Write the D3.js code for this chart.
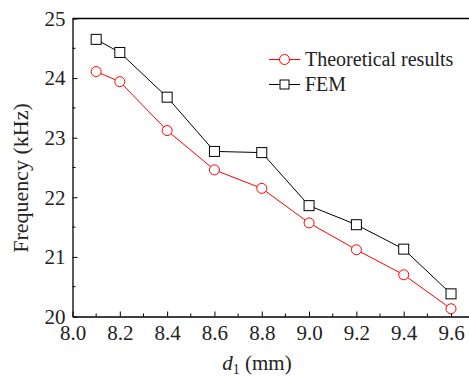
<!DOCTYPE html>
<html>
    <head>
        <meta charset="UTF-8">
        <script src="https://cdn.jsdelivr.net/npm/d3@7/dist/d3.min.js"></script>
    </head>
    <body style="margin:0">
        <script>
            //  横坐标 d1 (mm)
            var d1 = [8.1, 8.2, 8.4, 8.6, 8.8, 9.0, 9.2, 9.4, 9.6];
            //  理论结果与有限元结果 (kHz)
            var theoretical = [24.11, 23.94, 23.12, 22.46, 22.15, 21.57, 21.12, 20.70, 20.13];
            var fem = [24.65, 24.43, 23.68, 22.77, 22.75, 21.86, 21.54, 21.13, 20.38];
            var xTicks = [8.0, 8.2, 8.4, 8.6, 8.8, 9.0, 9.2, 9.4, 9.6];
            var yTicks = [20, 21, 22, 23, 24, 25];
            var seriesNames = ['Theoretical results', 'FEM'];

            var W = 469, H = 376;
            //  注意: 不能用 top 作变量名 (window.top 只读)
            var mLeft = 72.5, mTop = 18.5, mBottom = 316.5, mRight = 469;
            var FONT = 'Liberation Serif';

            //  所有文字统一用衬线字体
            function serif(sel, size) {
                return sel.attr('font-family', FONT)
                        .style('font-family', '"' + FONT + '"')
                        .attr('font-size', size)
                        .attr('fill', '#222');
            }

            //  图是被裁掉右边的, 所以范围比 9.6 稍宽
            var x = d3.scaleLinear().domain([8.0, 9.676]).range([mLeft, mRight]);
            var y = d3.scaleLinear().domain([20, 25]).range([mBottom, mTop]);

            var svg = d3.select('body').append('svg')
                    .attr('width', W)
                    .attr('height', H)
                    .attr('font-family', FONT);

            //  次刻度
            var xMinor = d3.range(8.1, 9.65, 0.2);
            var yMinor = d3.range(20.5, 25, 1);

            var xAxis = d3.axisBottom(x)
                    .tickValues(xTicks)
                    .tickFormat(d3.format('.1f'))
                    .tickSizeInner(-5)
                    .tickSizeOuter(0)
                    .tickPadding(7);
            var gx = svg.append('g')
                    .attr('transform', 'translate(0,' + mBottom + ')')
                    .call(xAxis)
                    .attr('font-family', FONT);
            serif(gx.selectAll('text'), 21).attr('dy', '0.8em');
            gx.select('.domain').attr('stroke-width', 1.3);
            gx.selectAll('.minor').data(xMinor).enter().append('line')
                    .attr('x1', function (d) { return x(d); })
                    .attr('x2', function (d) { return x(d); })
                    .attr('y1', 0).attr('y2', -3)
                    .attr('stroke', '#000');

            var yAxis = d3.axisLeft(y)
                    .tickValues(yTicks)
                    .tickFormat(d3.format('d'))
                    .tickSizeInner(-5)
                    .tickSizeOuter(0)
                    .tickPadding(7);
            var gy = svg.append('g')
                    .attr('transform', 'translate(' + mLeft + ',0)')
                    .call(yAxis)
                    .attr('font-family', FONT);
            serif(gy.selectAll('text'), 21);
            gy.select('.domain').attr('stroke-width', 1.3);
            gy.selectAll('.minor').data(yMinor).enter().append('line')
                    .attr('y1', function (d) { return y(d); })
                    .attr('y2', function (d) { return y(d); })
                    .attr('x1', 0).attr('x2', 3)
                    .attr('stroke', '#000');

            //  上边框
            svg.append('line')
                    .attr('x1', mLeft).attr('x2', mRight)
                    .attr('y1', y(25)).attr('y2', y(25))
                    .attr('stroke', '#000').attr('stroke-width', 1.3);

            //  坐标轴标题
            serif(svg.append('text'), 22)
                    .attr('transform', 'translate(28,178) rotate(-90)')
                    .attr('text-anchor', 'middle')
                    .text('Frequency (kHz)');

            var xl = serif(svg.append('text'), 21)
                    .attr('x', 257).attr('y', 370)
                    .attr('text-anchor', 'middle');
            serif(xl.append('tspan'), 21).attr('font-style', 'italic').text('d');
            serif(xl.append('tspan'), 14).attr('dy', 4).text('1');
            serif(xl.append('tspan'), 21).attr('dy', -4).text(' (mm)');

            var line = d3.line()
                    .x(function (d) { return x(d[0]); })
                    .y(function (d) { return y(d[1]); });

            var femPts = d1.map(function (d, i) { return [d, fem[i]]; });
            var thPts = d1.map(function (d, i) { return [d, theoretical[i]]; });

            svg.append('path').datum(femPts)
                    .attr('d', line).attr('fill', 'none')
                    .attr('stroke', '#000').attr('stroke-width', 1);
            svg.selectAll('.sq').data(femPts).enter().append('rect')
                    .attr('x', function (d) { return x(d[0]) - 5; })
                    .attr('y', function (d) { return y(d[1]) - 5; })
                    .attr('width', 10).attr('height', 10)
                    .attr('fill', '#fff').attr('stroke', '#000').attr('stroke-width', 1);

            svg.append('path').datum(thPts)
                    .attr('d', line).attr('fill', 'none')
                    .attr('stroke', '#ff0000').attr('stroke-width', 1);
            svg.selectAll('.ci').data(thPts).enter().append('circle')
                    .attr('cx', function (d) { return x(d[0]); })
                    .attr('cy', function (d) { return y(d[1]); })
                    .attr('r', 5)
                    .attr('fill', '#fff').attr('stroke', '#ff0000').attr('stroke-width', 1);

            //  图例
            var lg = svg.append('g').attr('transform', 'translate(269,59.5)');
            lg.append('line').attr('x1', 0).attr('x2', 31).attr('y1', 0).attr('y2', 0)
                    .attr('stroke', '#ff0000');
            lg.append('circle').attr('cx', 15.5).attr('cy', 0).attr('r', 5)
                    .attr('fill', '#fff').attr('stroke', '#ff0000');
            serif(lg.append('text'), 20).attr('x', 36).attr('y', 6).text(seriesNames[0]);
            lg.append('line').attr('x1', 0).attr('x2', 31).attr('y1', 25).attr('y2', 25)
                    .attr('stroke', '#000');
            lg.append('rect').attr('x', 11).attr('y', 20.5).attr('width', 9).attr('height', 9)
                    .attr('fill', '#fff').attr('stroke', '#000');
            serif(lg.append('text'), 20).attr('x', 36).attr('y', 31).text(seriesNames[1]);
        </script>
    </body>
</html>
